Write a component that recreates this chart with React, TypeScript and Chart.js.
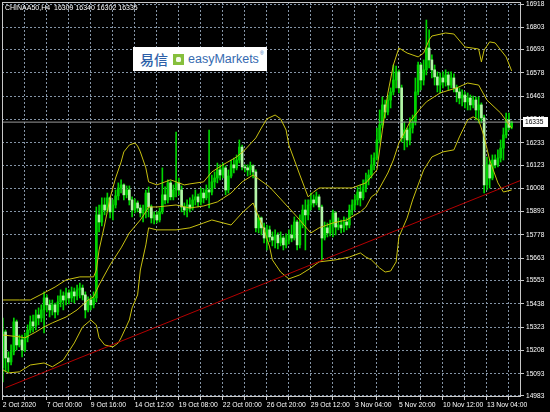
import { useEffect, useRef } from "react";
import { Chart, registerables } from "chart.js";

Chart.register(...registerables);

// ---- instrument / header ----
const symbolName = "CHINAA50,H4";
const lastBarOHLC = [16309, 16340, 16302, 16335];

// ---- time axis (bar index based, H4 bars) ----
const timeLabels = [
  "2 Oct 2020", "7 Oct 00:00", "9 Oct 16:00", "14 Oct 12:00", "19 Oct 08:00", "22 Oct 00:00",
  "26 Oct 20:00", "29 Oct 12:00", "3 Nov 04:00", "5 Nov 20:00", "10 Nov 12:00", "13 Nov 04:00",
];
const timeLabelBars = [0, 16, 32, 48, 64, 80, 96, 112, 128, 144, 160, 176];
const timeGridBars = [0, 8, 16, 24, 32, 40, 48, 56, 64, 72, 80, 88, 96, 104, 112, 120, 128, 136, 144, 152, 160, 168, 176, 184];

// ---- price axis ----
const priceTicks = [16918, 16803, 16693, 16578, 16463, 16348, 16233, 16123, 16008, 15893, 15778, 15663, 15553, 15438, 15323, 15208, 15093, 14983];

// ---- candles ----
const openPx = [
  15122, 15299, 15171, 15151, 15201, 15349, 15235, 15260, 15210, 15270,
  15309, 15349, 15329, 15383, 15368, 15408, 15467, 15433, 15408, 15433,
  15398, 15447, 15477, 15457, 15492, 15467, 15497, 15477, 15507, 15516,
  15482, 15408, 15457, 15433, 15467, 15877, 15842, 15926, 15901, 15961,
  15892, 15926, 15971, 16010, 16025, 15976, 16000, 15951, 15901, 15936,
  15911, 15887, 15901, 15985, 15916, 15862, 15877, 15852, 15892, 15976,
  15951, 16035, 15966, 16000, 16035, 16000, 15916, 15901, 15926, 15911,
  15951, 15966, 15941, 15985, 15961, 16000, 15990, 16040, 16059, 16099,
  16074, 16109, 16000, 16069, 16124, 16109, 16148, 16212, 16114, 16109,
  16099, 16119, 16089, 15813, 15862, 15813, 15763, 15803, 15768, 15753,
  15778, 15739, 15763, 15729, 15753, 15778, 15763, 15842, 15729, 15827,
  15901, 15877, 15926, 15951, 15936, 15966, 15916, 15763, 15813, 15788,
  15827, 15887, 15817, 15827, 15813, 15842, 15827, 15901, 15926, 15951,
  15990, 15961, 16010, 16050, 16074, 16124, 16158, 16247, 16321, 16420,
  16385, 16444, 16484, 16543, 16583, 16504, 16257, 16296, 16247, 16306,
  16336, 16484, 16617, 16543, 16593, 16701, 16642, 16593, 16558, 16518,
  16553, 16533, 16568, 16518, 16553, 16504, 16484, 16454, 16469, 16435,
  16454, 16420, 16444, 16395, 16420, 16356, 16025, 16124, 16059, 16148,
  16124, 16158, 16207, 16272, 16346, 16309,
];
const highPx = [
  15368, 15309, 15201, 15235, 15368, 15358, 15284, 15284, 15294, 15334,
  15378, 15383, 15408, 15418, 15433, 15497, 15482, 15457, 15457, 15442,
  15477, 15507, 15497, 15516, 15507, 15521, 15516, 15531, 15541, 15531,
  15497, 15472, 15477, 15497, 15916, 15926, 15961, 15961, 15985, 15966,
  15951, 16000, 16035, 16050, 16030, 16020, 16020, 15966, 15956, 15946,
  15926, 15926, 16000, 16015, 15926, 15892, 15892, 15911, 16109, 16015,
  16050, 16045, 16025, 16286, 16059, 16020, 15936, 15951, 15961, 15976,
  16000, 15980, 16010, 16005, 16025, 16296, 16074, 16089, 16133, 16124,
  16133, 16119, 16099, 16148, 16158, 16173, 16247, 16222, 16124, 16124,
  16138, 16124, 16099, 15877, 15867, 15837, 15827, 15822, 15793, 15803,
  15788, 15793, 15773, 15783, 15803, 15827, 15867, 15852, 15877, 15926,
  15951, 15951, 15985, 15976, 15990, 15976, 15926, 15842, 15837, 15852,
  15901, 15892, 15862, 15852, 15867, 15862, 15926, 15951, 15976, 16015,
  16025, 16050, 16084, 16099, 16173, 16183, 16306, 16395, 16459, 16444,
  16469, 16504, 16617, 16612, 16593, 16518, 16336, 16306, 16356, 16370,
  16553, 16632, 16627, 16642, 16839, 16790, 16667, 16617, 16583, 16578,
  16583, 16593, 16583, 16583, 16573, 16518, 16504, 16494, 16484, 16479,
  16469, 16464, 16459, 16459, 16430, 16370, 16163, 16148, 16173, 16173,
  16198, 16247, 16306, 16380, 16380, 16340,
];
const lowPx = [
  15052, 15102, 15102, 15136, 15186, 15210, 15225, 15176, 15201, 15250,
  15294, 15299, 15309, 15334, 15349, 15294, 15398, 15373, 15383, 15368,
  15383, 15423, 15408, 15433, 15437, 15447, 15442, 15457, 15467, 15457,
  15368, 15398, 15408, 15418, 15447, 15793, 15822, 15877, 15892, 15862,
  15852, 15911, 15951, 15985, 15951, 15961, 15926, 15867, 15887, 15892,
  15867, 15842, 15862, 15867, 15837, 15832, 15837, 15842, 15882, 15931,
  15936, 15951, 15951, 15966, 15976, 15892, 15877, 15867, 15892, 15901,
  15926, 15916, 15926, 15936, 15951, 15911, 15976, 16010, 16035, 16050,
  16059, 15976, 15985, 16059, 16084, 16099, 16133, 16099, 16089, 16069,
  16074, 16059, 15793, 15788, 15778, 15739, 15704, 15744, 15724, 15714,
  15709, 15724, 15704, 15714, 15734, 15744, 15753, 15704, 15714, 15813,
  15704, 15852, 15901, 15916, 15926, 15901, 15655, 15753, 15768, 15773,
  15768, 15778, 15803, 15788, 15793, 15803, 15813, 15877, 15901, 15926,
  15921, 15951, 15990, 16025, 16059, 16099, 16148, 16232, 16306, 16356,
  16370, 16405, 16469, 16504, 16479, 16237, 16198, 16212, 16222, 16281,
  16321, 16469, 16494, 16518, 16568, 16602, 16553, 16518, 16484, 16479,
  16504, 16513, 16494, 16504, 16484, 16435, 16425, 16415, 16405, 16395,
  16395, 16405, 16346, 16331, 16331, 15985, 16000, 16010, 16050, 16109,
  16114, 16138, 16148, 16257, 16296, 16302,
];
const closePx = [
  15299, 15171, 15151, 15201, 15349, 15235, 15260, 15210, 15270, 15309,
  15349, 15329, 15383, 15368, 15408, 15467, 15433, 15408, 15433, 15398,
  15447, 15477, 15457, 15492, 15467, 15497, 15477, 15507, 15516, 15482,
  15408, 15457, 15433, 15467, 15877, 15842, 15926, 15901, 15961, 15892,
  15926, 15971, 16010, 16025, 15976, 16000, 15951, 15901, 15936, 15911,
  15887, 15901, 15985, 15916, 15862, 15877, 15852, 15892, 15976, 15951,
  16035, 15966, 16000, 16035, 16000, 15916, 15901, 15926, 15911, 15951,
  15966, 15941, 15985, 15961, 16000, 15990, 16040, 16059, 16099, 16074,
  16109, 16000, 16069, 16124, 16109, 16148, 16212, 16114, 16109, 16099,
  16119, 16089, 15813, 15862, 15813, 15763, 15803, 15768, 15753, 15778,
  15739, 15763, 15729, 15753, 15778, 15763, 15842, 15729, 15827, 15901,
  15877, 15926, 15951, 15936, 15966, 15916, 15763, 15813, 15788, 15827,
  15887, 15817, 15827, 15813, 15842, 15827, 15901, 15926, 15951, 15990,
  15961, 16010, 16050, 16074, 16124, 16158, 16247, 16321, 16420, 16385,
  16444, 16484, 16543, 16583, 16504, 16257, 16296, 16247, 16306, 16336,
  16484, 16617, 16543, 16593, 16701, 16642, 16593, 16558, 16518, 16553,
  16533, 16568, 16518, 16553, 16504, 16484, 16454, 16469, 16435, 16454,
  16420, 16444, 16395, 16420, 16356, 16025, 16124, 16059, 16148, 16124,
  16158, 16207, 16272, 16346, 16309, 16335,
];

// ---- Bollinger bands (bar index, price) ----
const upperBars = [0, 6, 10, 15, 19, 23, 28, 33, 34, 35, 37, 39, 41, 43, 44, 46, 48, 49, 50, 52, 53, 56, 61, 63, 66, 68, 73, 76, 80, 85, 88, 92, 94, 96, 99, 101, 103, 104, 106, 108, 111, 113, 115, 121, 127, 132, 136, 138, 140, 142, 144, 147, 151, 153, 155, 156, 161, 164, 168, 173, 174, 175, 177, 179, 183, 185];
const upperPx = [15457, 15457, 15457, 15492, 15521, 15556, 15571, 15571, 15605, 15704, 15827, 15961, 16059, 16138, 16188, 16222, 16232, 16217, 16188, 16109, 16040, 16025, 16050, 16040, 16025, 16030, 16040, 16089, 16124, 16163, 16198, 16257, 16306, 16351, 16370, 16351, 16296, 16222, 16148, 16074, 15966, 15990, 16010, 16010, 16010, 16035, 16099, 16296, 16479, 16617, 16701, 16676, 16657, 16676, 16741, 16760, 16775, 16770, 16706, 16696, 16632, 16691, 16731, 16726, 16657, 16588];
const middleBars = [0, 6, 8, 12, 15, 18, 23, 27, 31, 33, 35, 39, 43, 46, 50, 52, 53, 56, 63, 68, 73, 78, 83, 87, 91, 92, 97, 102, 107, 111, 112, 115, 120, 125, 130, 132, 134, 136, 140, 142, 144, 146, 148, 152, 154, 159, 165, 169, 173, 176, 181, 185];
const middlePx = [15284, 15275, 15270, 15299, 15324, 15344, 15373, 15408, 15457, 15472, 15531, 15630, 15714, 15788, 15852, 15892, 15916, 15916, 15926, 15911, 15921, 15941, 15985, 16040, 16074, 16064, 16015, 15941, 15867, 15803, 15788, 15813, 15837, 15852, 15892, 15916, 15966, 15985, 16084, 16148, 16232, 16281, 16336, 16405, 16435, 16479, 16504, 16528, 16518, 16444, 16380, 16306];
const lowerBars = [0, 2, 6, 10, 15, 18, 22, 26, 29, 32, 34, 35, 37, 40, 42, 43, 46, 47, 49, 50, 52, 53, 56, 63, 68, 73, 76, 83, 87, 91, 92, 95, 97, 98, 101, 104, 108, 112, 115, 121, 126, 130, 132, 134, 137, 139, 141, 143, 144, 147, 149, 153, 156, 160, 164, 166, 169, 171, 173, 175, 177, 180, 182, 185];
const lowerPx = [15112, 15097, 15102, 15136, 15146, 15127, 15161, 15245, 15324, 15358, 15334, 15270, 15235, 15225, 15245, 15270, 15358, 15418, 15482, 15605, 15729, 15813, 15803, 15803, 15813, 15837, 15852, 15827, 15887, 15936, 15901, 15803, 15719, 15655, 15595, 15561, 15581, 15615, 15645, 15655, 15669, 15689, 15669, 15655, 15615, 15595, 15600, 15645, 15768, 15862, 15951, 16099, 16163, 16188, 16198, 16262, 16346, 16361, 16346, 16262, 16148, 16035, 15990, 16000];

// ---- trend line ----
const trendBars = [1, 188.4];
const trendPx = [15024, 16048];

// ---- styling ----
const FONT = '"Liberation Sans", Arial, sans-serif';
const GRID = "#8494a6";
const FRAME = "#c8c8c8";
const WICK = "#00d400";
const BULL = "#00d400";
const BEAR = "#b4f5a8";
const BAND = "#c8c010";
const TREND = "#b40000";
const PRICE_LINE = "#9a9a9a";
const X_MIN = -0.3;
const X_MAX = 188.4;

const toPoints = (bars: number[], vals: number[]) => bars.map((b, k) => ({ x: b, y: vals[k] }));

const decor = {
  id: "decor",
  afterDraw(chart: any) {
    const { ctx, chartArea: a, scales } = chart;
    ctx.save();
    // frame
    ctx.strokeStyle = FRAME;
    ctx.lineWidth = 1;
    ctx.strokeRect(Math.round(a.left) + 0.5, Math.round(a.top) + 0.5, Math.round(a.right - a.left) - 1, Math.round(a.bottom - a.top) - 1);
    // header
    ctx.fillStyle = "#ffffff";
    ctx.font = `7px ${FONT}`;
    ctx.textBaseline = "alphabetic";
    ctx.textAlign = "left";
    ctx.fillText(`${symbolName}  ${lastBarOHLC.join(" ")}`, 5, 10);
    // last price tag
    const last = closePx[closePx.length - 1];
    const y = scales.y.getPixelForValue(last);
    ctx.fillStyle = "#ffffff";
    ctx.fillRect(Math.round(a.right) + 2, Math.round(y) - 5, 25, 10);
    ctx.fillStyle = "#000000";
    ctx.textBaseline = "middle";
    ctx.font = `6.6px ${FONT}`;
    ctx.fillText(String(last), Math.round(a.right) + 4, Math.round(y) + 0.5);
    ctx.restore();
  },
};

export default function App() {
  const canvasRef = useRef<HTMLCanvasElement>(null);

  useEffect(() => {
    document.body.style.margin = "0";
    document.body.style.background = "#000";
    const bars = closePx.map((_, i) => i);
    const wicks = bars.map((i) => ({ x: i, y: [lowPx[i], highPx[i]] }));
    const bodies = bars.map((i) => ({ x: i, y: [openPx[i], closePx[i]] }));

    const gridOpts = {
      color: GRID,
      lineWidth: 1,
      drawTicks: true,
      tickLength: 3,
      tickColor: FRAME,
      tickBorderDash: [],
      offset: false,
    };

    const chart = new Chart(canvasRef.current as HTMLCanvasElement, {
      type: "bar",
      data: {
        datasets: [
          {
            type: "bar",
            data: wicks as any,
            backgroundColor: WICK,
            grouped: false,
            barPercentage: 1,
            categoryPercentage: 1,
            maxBarThickness: 1,
            order: 6,
          },
          {
            type: "bar",
            data: bodies as any,
            backgroundColor: (c: any) => {
              const i = c.dataIndex;
              if (i === undefined) return BULL;
              return closePx[i] >= openPx[i] ? BULL : BEAR;
            },
            grouped: false,
            barPercentage: 1,
            categoryPercentage: 1,
            maxBarThickness: 2,
            minBarLength: 1,
            order: 5,
          },
          {
            type: "line",
            data: toPoints(upperBars, upperPx) as any,
            borderColor: BAND,
            borderWidth: 1,
            pointRadius: 0,
            tension: 0,
            order: 3,
          },
          {
            type: "line",
            data: toPoints(middleBars, middlePx) as any,
            borderColor: BAND,
            borderWidth: 1,
            pointRadius: 0,
            tension: 0,
            order: 3,
          },
          {
            type: "line",
            data: toPoints(lowerBars, lowerPx) as any,
            borderColor: BAND,
            borderWidth: 1,
            pointRadius: 0,
            tension: 0,
            order: 3,
          },
          {
            type: "line",
            data: toPoints(trendBars, trendPx) as any,
            borderColor: TREND,
            borderWidth: 1,
            pointRadius: 0,
            order: 2,
          },
          {
            type: "line",
            data: [
              { x: X_MIN, y: closePx[closePx.length - 1] },
              { x: X_MAX, y: closePx[closePx.length - 1] },
            ] as any,
            borderColor: PRICE_LINE,
            borderWidth: 1,
            pointRadius: 0,
            order: 4,
          },
        ],
      },
      options: {
        responsive: false,
        animation: false,
        devicePixelRatio: 1,
        layout: { padding: { left: 2, top: 2, right: 0, bottom: 0 } },
        plugins: { legend: { display: false }, tooltip: { enabled: false } },
        scales: {
          x: {
            type: "linear",
            min: X_MIN,
            max: X_MAX,
            offset: false,
            afterBuildTicks: (s: any) => {
              s.ticks = timeGridBars.map((v) => ({ value: v }));
            },
            afterFit: (s: any) => {
              s.height = 15;
              s.paddingLeft = 0;
              s.paddingRight = 0;
            },
            grid: gridOpts as any,
            border: { display: false, dash: [2, 2] },
            ticks: {
              autoSkip: false,
              maxRotation: 0,
              minRotation: 0,
              align: "start",
              padding: 1,
              color: "#ffffff",
              font: { family: FONT, size: 6.8 },
              callback: (v: any) => {
                const k = timeLabelBars.indexOf(Number(v));
                return k >= 0 ? timeLabels[k] : "";
              },
            },
          },
          y: {
            type: "linear",
            position: "right",
            min: 14978,
            max: 16928,
            afterBuildTicks: (s: any) => {
              s.ticks = priceTicks.map((v) => ({ value: v }));
            },
            afterFit: (s: any) => {
              s.width = 29;
              s.paddingTop = 0;
              s.paddingBottom = 0;
            },
            grid: gridOpts as any,
            border: { display: false, dash: [2, 2] },
            ticks: {
              autoSkip: false,
              padding: 2,
              color: "#ffffff",
              font: { family: FONT, size: 6.6 },
              callback: (v: any) => String(v),
            },
          },
        },
      } as any,
      plugins: [decor],
    });
    return () => chart.destroy();
  }, []);

  return (
    <div style={{ position: "absolute", left: 0, top: 0, width: 550, height: 412, background: "#000", overflow: "hidden" }}>
      <canvas ref={canvasRef} width={550} height={412} style={{ display: "block" }} />
      <div
        style={{
          position: "absolute",
          left: 133,
          top: 47,
          width: 134,
          height: 24,
          background: "#ffffff",
        }}
      >
        <span
          style={{
            position: "absolute",
            left: 7,
            top: 0,
            lineHeight: "24px",
            fontFamily: '"Noto Sans CJK SC", sans-serif',
            fontSize: 14,
            fontWeight: 500,
            color: "#2d5fa8",
          }}
        >
          易信
        </span>
        <div
          style={{
            position: "absolute",
            left: 40,
            top: 7,
            width: 11,
            height: 11,
            background: "#86bf3c",
          }}
        >
          <div
            style={{
              position: "absolute",
              left: 3,
              top: 3,
              width: 5,
              height: 5,
              borderRadius: 1.5,
              background: "#f4faec",
            }}
          />
        </div>
        <span
          style={{
            position: "absolute",
            left: 55,
            top: 0,
            lineHeight: "24px",
            fontFamily: FONT,
            fontSize: 12.5,
            color: "#3469b0",
            whiteSpace: "nowrap",
          }}
        >
          easyMarkets
        </span>
        <span
          style={{
            position: "absolute",
            left: 127,
            top: 3,
            fontFamily: FONT,
            fontSize: 5,
            lineHeight: "6px",
            color: "#3469b0",
          }}
        >
          ®
        </span>
      </div>
    </div>
  );
}
